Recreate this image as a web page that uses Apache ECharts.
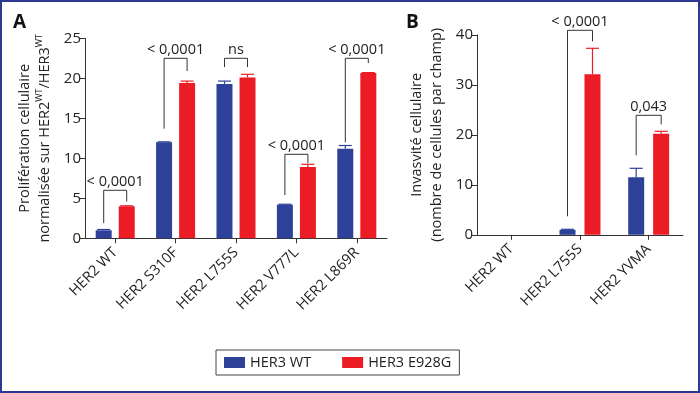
<!DOCTYPE html>
<html><head><meta charset="utf-8">
<script src="https://cdn.jsdelivr.net/npm/echarts@6/dist/echarts.min.js"></script>
<style>html,body{margin:0;padding:0;background:#fff}#c{width:700px;height:393px}</style>
</head><body><div id="c"></div>
<script>
// ---- Data ----
const seriesNames = ['HER3 WT', 'HER3 E928G'];
const catsA = ['HER2 WT', 'HER2 S310F', 'HER2 L755S', 'HER2 V777L', 'HER2 L869R'];
const blueA = [1.0, 12.0, 19.3, 4.2, 11.2];
const redA = [4.0, 19.4, 20.1, 8.9, 20.65];
const blueErrA = [0.1, 0.06, 0.35, 0.06, 0.4];
const redErrA = [0.06, 0.25, 0.4, 0.35, 0.06];
// [category, bracket top, left foot, right foot, label]
const bracketsA = [
  [0, 6.0, 1.9, 4.6, '< 0,0001'],
  [1, 22.5, 13.7, 20.9, '< 0,0001'],
  [2, 22.5, 21.4, 21.4, 'ns'],
  [3, 10.5, 5.4, 9.4, '< 0,0001'],
  [4, 22.5, 12.0, 21.9, '< 0,0001']
];
const yMaxA = 25, yStepA = 5;

const catsB = ['HER2 WT', 'HER2 L755S', 'HER2 YVMA'];
const blueB = [null, 1.0, 11.5];
const redB = [null, 32.1, 20.2];
const blueErrB = [0, 0.1, 1.8];
const redErrB = [0, 5.2, 0.5];
const bracketsB = [
  [1, 40.9, 3.7, 38.7, '< 0,0001'],
  [2, 23.9, 15.9, 22.1, '0,043']
];
const yMaxB = 40, yStepB = 10;

// ---- Styles ----
const FONT = 'Open Sans';
const BLUE = '#2D4199', RED = '#EC1C24', INK = '#222';

function errSeries(xi, vals, errs, offset, color) {
  const data = [];
  vals.forEach((v, i) => { if (v != null) data.push([i, v, v + errs[i]]); });
  return {
    type: 'custom', xAxisIndex: xi, yAxisIndex: xi, z: 5, silent: true,
    data: data,
    encode: { x: 0, y: 1 },
    renderItem(params, api) {
      const p0 = api.coord([api.value(0), api.value(1)]);
      const p1 = api.coord([api.value(0), api.value(2)]);
      const x = p0[0] + offset;
      return { type: 'group', children: [
        { type: 'line', shape: { x1: x, y1: p0[1], x2: x, y2: p1[1] }, style: { stroke: color, lineWidth: 1.2 } },
        { type: 'line', shape: { x1: x - 6.5, y1: p1[1], x2: x + 6.5, y2: p1[1] }, style: { stroke: color, lineWidth: 1.2 } }
      ] };
    }
  };
}

function bracketSeries(xi, brackets, half) {
  return {
    type: 'custom', xAxisIndex: xi, yAxisIndex: xi, z: 6, silent: true,
    data: brackets.map(b => b.slice(0, 4)),
    encode: { x: 0, y: 1 },
    renderItem(params, api) {
      const b = brackets[params.dataIndex];
      const c = api.coord([b[0], b[1]]);
      const xl = c[0] - half, xr = c[0] + half;
      const yT = c[1];
      const yL = api.coord([b[0], b[2]])[1];
      const yR = api.coord([b[0], b[3]])[1];
      return { type: 'group', children: [
        { type: 'polyline', shape: { points: [[xl, yL], [xl, yT], [xr, yT], [xr, yR]] },
          style: { stroke: '#333', fill: null, lineWidth: 1 } },
        { type: 'text', x: (xl + xr) / 2, y: yT - 1,
          style: { text: b[4], align: 'center', verticalAlign: 'bottom', fontSize: 14.5, fontFamily: FONT, fill: INK } }
      ] };
    }
  };
}

const axisLineStyle = { show: true, lineStyle: { color: '#333', width: 1 } };
const axisTickStyle = { show: true, length: 5, lineStyle: { color: '#333', width: 1 } };

function xAxis(gi, cats) {
  return {
    type: 'category', gridIndex: gi, data: cats,
    axisLine: axisLineStyle, axisTick: Object.assign({ alignWithLabel: true }, axisTickStyle),
    axisLabel: { rotate: 45, fontSize: 14.5, fontFamily: FONT, color: INK, margin: 12, interval: 0 },
    splitLine: { show: false }
  };
}
function yAxis(gi, max, step, name) {
  return {
    type: 'value', gridIndex: gi, min: 0, max: max, interval: step,
    axisLine: axisLineStyle, axisTick: axisTickStyle,
    axisLabel: { fontSize: 15, fontFamily: FONT, color: INK, margin: 4 },
    splitLine: { show: false },
    name: name, nameLocation: 'middle', nameRotate: 90, nameGap: 30,
    nameTextStyle: {
      color: INK, fontFamily: FONT,
      rich: {
        t: { fontSize: 14.5, fontFamily: FONT, color: INK, lineHeight: 20 },
        s: { fontSize: 9, fontFamily: FONT, color: INK, verticalAlign: 'top' }
      }
    }
  };
}

const chart = echarts.init(document.getElementById('c'), null, { renderer: 'canvas' });
chart.setOption({
  backgroundColor: '#fff',
  animation: false,
  textStyle: { fontFamily: FONT },
  grid: [
    { left: 85, top: 38.3, width: 302, height: 200 },
    { left: 477, top: 34.8, width: 206, height: 200 }
  ],
  xAxis: [xAxis(0, catsA), xAxis(1, catsB)],
  yAxis: [
    yAxis(0, yMaxA, yStepA, '{t|Prolifération cellulaire}\n{t|normalisée sur HER2}{s|WT}{t|/HER3}{s|WT}'),
    yAxis(1, yMaxB, yStepB, '{t|Invasvité cellulaire}\n{t|(nombre de cellules par champ)}')
  ],
  legend: {
    data: seriesNames, left: 216, top: 350, orient: 'horizontal',
    itemWidth: 21, itemHeight: 11, itemGap: 31, icon: 'rect',
    padding: [5, 8], borderColor: '#444', borderWidth: 1,
    textStyle: { fontSize: 14.5, fontFamily: FONT, color: INK },
    selectedMode: false
  },
  graphic: [
    { type: 'rect', shape: { x: 1, y: 1, width: 698, height: 391 }, style: { fill: null, stroke: '#2B3990', lineWidth: 2 }, z: 100 },
    { type: 'text', left: 13, top: 13, style: { text: 'A', fontSize: 19, fontWeight: 'bold', fontFamily: FONT, fill: '#111' } },
    { type: 'text', left: 406, top: 13, style: { text: 'B', fontSize: 19, fontWeight: 'bold', fontFamily: FONT, fill: '#111' } }
  ],
  series: [
    { name: seriesNames[0], type: 'bar', xAxisIndex: 0, yAxisIndex: 0, data: blueA, barWidth: 16, barGap: '44%', itemStyle: { color: BLUE } },
    { name: seriesNames[1], type: 'bar', xAxisIndex: 0, yAxisIndex: 0, data: redA, barWidth: 16, barGap: '44%', itemStyle: { color: RED } },
    { name: seriesNames[0], type: 'bar', xAxisIndex: 1, yAxisIndex: 1, data: blueB, barWidth: 16, barGap: '56%', itemStyle: { color: BLUE } },
    { name: seriesNames[1], type: 'bar', xAxisIndex: 1, yAxisIndex: 1, data: redB, barWidth: 16, barGap: '56%', itemStyle: { color: RED } },
    errSeries(0, blueA, blueErrA, -11.5, BLUE),
    errSeries(0, redA, redErrA, 11.5, RED),
    errSeries(1, blueB, blueErrB, -12.5, BLUE),
    errSeries(1, redB, redErrB, 12.5, RED),
    bracketSeries(0, bracketsA, 11.5),
    bracketSeries(1, bracketsB, 12.5)
  ]
});
</script></body></html>
